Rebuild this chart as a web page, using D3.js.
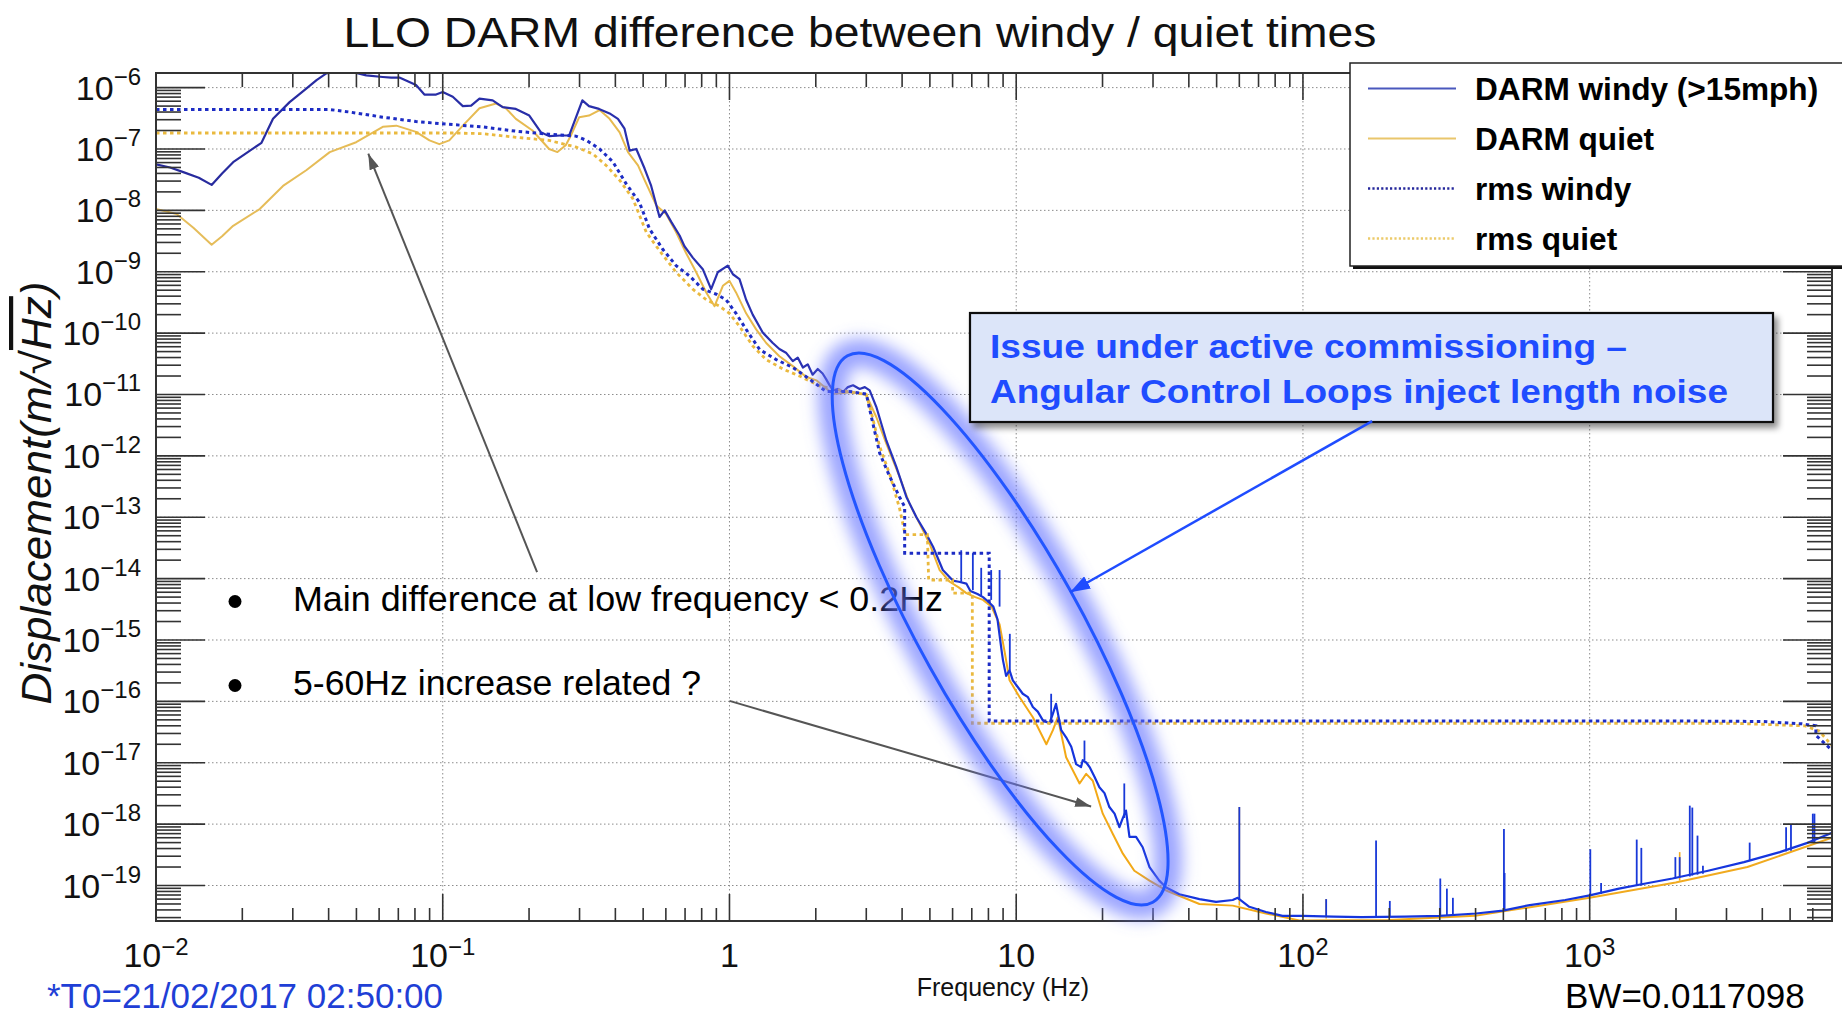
<!DOCTYPE html>
<html>
<head>
<meta charset="utf-8">
<script src="https://cdn.jsdelivr.net/npm/d3@7"></script>
<style>
  html, body { margin: 0; padding: 0; background: #ffffff; }
  svg { display: block; }
  text { font-family: "Liberation Sans", Arial, Helvetica, sans-serif; }
</style>
</head>
<body>
<svg id="chart" width="1842" height="1015"></svg>
<script>
// ---------------- DARM amplitude spectral densities (Hz, m/sqrt(Hz)) ----------------
const windyFreq = [0.0100, 0.0112, 0.01245, 0.0141, 0.01563, 0.0170, 0.01858, 0.0209, 0.02333, 0.02559,
  0.02924, 0.03342, 0.0363, 0.03926, 0.0447, 0.0499, 0.0541, 0.0618, 0.0661, 0.0706,
  0.0807, 0.0863, 0.0948, 0.100, 0.1084, 0.1175, 0.1256, 0.1343, 0.1493, 0.1618,
  0.1799, 0.2004, 0.2198, 0.235, 0.257, 0.2761, 0.3069, 0.3236, 0.3508, 0.3819,
  0.4083, 0.4305, 0.4487, 0.4732, 0.5058, 0.5333, 0.5702, 0.5943, 0.6266, 0.6699,
  0.6966, 0.7447, 0.8072, 0.863, 0.9099, 0.9863, 1.028, 1.084, 1.143, 1.205,
  1.306, 1.416, 1.493, 1.574, 1.663, 1.730, 1.803, 1.875, 1.95, 2.032,
  2.113, 2.173, 2.228, 2.296, 2.388, 2.489, 2.588, 2.698, 2.844, 2.965,
  3.083, 3.251, 3.524, 3.819, 4.14, 4.487, 4.853, 5.129, 5.546, 6.012,
  6.31, 6.70, 6.92, 7.33, 7.66, 8.0, 8.32, 8.6, 8.91, 8.99,
  9.22, 9.48, 9.73, 10.14, 10.54, 10.99, 11.43, 11.89, 12.39, 13.06,
  13.43, 13.77, 14.35, 14.93, 15.56, 16.18, 16.83, 17.06, 17.58, 18.03,
  18.75, 19.5, 20.32, 21.13, 22.03, 22.9, 23.55, 24.15, 24.83, 26.18,
  27.61, 29.17, 31.55, 33.34, 37.07, 43.55, 49.77, 56.89, 59.2, 65.0,
  74.3, 84.9, 100, 127.6, 160, 226.5, 300, 401.8, 497.7, 618,
  822, 1000, 1265, 1600, 1945, 2588, 3451, 4603, 5781, 7000];
const windyAmp = [5.6e-8, 5.0e-8, 4.2e-8, 3.4e-8, 2.6e-8, 4.0e-8, 6.1e-8, 8.9e-8, 1.26e-7, 3.1e-7,
  5.8e-7, 9.6e-7, 1.32e-6, 1.70e-6, 1.9e-6, 1.74e-6, 1.58e-6, 1.49e-6, 1.45e-6, 1.46e-6,
  1.10e-6, 7.7e-7, 7.7e-7, 8.5e-7, 7.1e-7, 5.0e-7, 5.1e-7, 6.6e-7, 6.2e-7, 4.8e-7,
  4.5e-7, 3.5e-7, 1.88e-7, 1.62e-7, 1.66e-7, 1.66e-7, 6.2e-7, 5.0e-7, 4.5e-7, 3.8e-7,
  3.1e-7, 2.14e-7, 9.4e-8, 1.0e-7, 4.8e-8, 2.5e-8, 7.8e-9, 1.0e-8, 6.5e-9, 3.9e-9,
  2.6e-9, 1.7e-9, 1.1e-9, 5.2e-10, 9.8e-10, 1.26e-9, 9.1e-10, 7.6e-10, 3.5e-10, 2.0e-10,
  1.02e-10, 6.9e-11, 5.5e-11, 4.8e-11, 3.5e-11, 4.0e-11, 2.75e-11, 3.1e-11, 2.1e-11, 2.6e-11,
  2.2e-11, 1.78e-11, 1.45e-11, 1.17e-11, 1.23e-11, 1.10e-11, 1.32e-11, 1.41e-11, 1.23e-11, 1.32e-11,
  1.17e-11, 6.3e-12, 1.78e-12, 6.6e-13, 2.14e-13, 1.0e-13, 5.4e-14, 3.3e-14, 1.38e-14, 9.3e-15,
  8.9e-15, 8.3e-15, 6.3e-15, 5.6e-15, 5.0e-15, 4.2e-15, 3.5e-15, 2.2e-15, 6.3e-16, 4.7e-16,
  2.6e-16, 3.2e-16, 2.2e-16, 1.7e-16, 1.33e-16, 1.17e-16, 8.1e-17, 6.8e-17, 4.9e-17, 4.4e-17,
  6.3e-17, 9.1e-17, 3.4e-17, 2.6e-17, 1.82e-17, 9.5e-18, 8.5e-18, 1.1e-17, 1.0e-17, 8.5e-18,
  5.9e-18, 4.0e-18, 3.2e-18, 1.9e-18, 1.48e-18, 8.9e-19, 1.26e-18, 1.66e-18, 6.2e-19, 6.2e-19,
  4.2e-19, 2.0e-19, 1.2e-19, 9.3e-20, 7.2e-20, 6.0e-20, 5.4e-20, 5.8e-20, 6.3e-20, 4.5e-20,
  3.7e-20, 3.2e-20, 3.2e-20, 3.1e-20, 3.05e-20, 3.1e-20, 3.2e-20, 3.5e-20, 3.9e-20, 4.8e-20,
  5.8e-20, 6.9e-20, 8.9e-20, 1.1e-19, 1.3e-19, 1.74e-19, 2.4e-19, 3.5e-19, 5.0e-19, 7.2e-19];

const quietFreq = [0.0100, 0.0118, 0.0135, 0.01563, 0.0170, 0.01858, 0.0230, 0.02773, 0.03342, 0.04036,
  0.0499, 0.0618, 0.0689, 0.0807, 0.0899, 0.0973, 0.1054, 0.1175, 0.1343, 0.1535,
  0.166, 0.1799, 0.2056, 0.235, 0.2512, 0.2685, 0.2799, 0.2992, 0.3236, 0.3524,
  0.3819, 0.414, 0.4426, 0.4797, 0.5058, 0.5559, 0.6012, 0.6516, 0.7063, 0.7656,
  0.8299, 0.8872, 0.9484, 1.0, 1.054, 1.143, 1.239, 1.343, 1.493, 1.663,
  1.849, 2.009, 2.296, 2.698, 3.0, 3.251, 3.524, 3.917, 4.246, 4.603,
  4.989, 5.408, 5.861, 6.3, 6.70, 7.2, 7.66, 8.2, 8.75, 9.12,
  9.48, 10.28, 11.43, 12.74, 13.43, 13.96, 14.93, 16.63, 17.54, 18.49,
  20.04, 21.73, 23.55, 25.82, 29.17, 33.34, 43.55, 56.89, 74.3, 97.1,
  200, 398, 1000, 1995, 3548, 7000];
const quietAmp = [1.05e-8, 8.7e-9, 5.2e-9, 2.75e-9, 3.8e-9, 5.6e-9, 1.05e-8, 2.5e-8, 4.5e-8, 8.9e-8,
  1.29e-7, 2.3e-7, 2.4e-7, 1.9e-7, 1.38e-7, 1.2e-7, 1.38e-7, 2.4e-7, 4.6e-7, 5.5e-7,
  4.6e-7, 3.1e-7, 2.0e-7, 1.0e-7, 8.9e-8, 1.15e-7, 1.66e-7, 3.3e-7, 3.5e-7, 4.3e-7,
  3.1e-7, 1.86e-7, 8.9e-8, 5.4e-8, 3.1e-8, 1.2e-8, 8.7e-9, 4.4e-9, 2.0e-9, 9.8e-10,
  4.6e-10, 2.75e-10, 5.9e-10, 7.1e-10, 4.6e-10, 2.1e-10, 1.15e-10, 6.9e-11, 4.2e-11, 2.9e-11,
  1.95e-11, 1.7e-11, 1.02e-11, 1.1e-11, 9.8e-12, 4.3e-12, 1.58e-12, 4.6e-13, 1.66e-13, 7.9e-14,
  3.7e-14, 1.38e-14, 8.9e-15, 7.2e-15, 5.8e-15, 5.0e-15, 4.5e-15, 3.5e-15, 1.8e-15, 6.3e-16,
  2.2e-16, 1.17e-16, 5.5e-17, 2.0e-17, 3.4e-17, 5.5e-17, 1.23e-17, 4.6e-18, 6.6e-18, 5.1e-18,
  1.48e-18, 6.9e-19, 3.3e-19, 1.74e-19, 1.2e-19, 8.3e-20, 5.0e-20, 4.7e-20, 3.5e-20, 2.7e-20,
  2.75e-20, 3.2e-20, 6.3e-20, 1.12e-19, 2.0e-19, 6.0e-19];

// narrow spectral lines drawn on top of the broadband curves (Hz, floor, peak)
const windyLineFreq = [6.43, 7.06, 7.55, 8.18, 8.75, 9.50, 13.24, 17.3, 23.82, 60.0,
  120.5, 179.9, 200.9, 301.3, 317.7, 333.4, 502.3, 505, 1005, 1096,
  1459, 1514, 1990, 2060, 2234, 2280, 2377, 2483, 3614, 4842, 5035, 6000, 6080];
const windyLineFloor = [8.9e-15, 6.5e-15, 5.2e-15, 4.5e-15, 3.5e-15, 3.2e-16, 4.4e-17, 1.1e-17, 1.26e-18, 5.8e-20,
  3.1e-20, 3.1e-20, 3.1e-20, 3.2e-20, 3.3e-20, 3.3e-20, 3.9e-20, 3.9e-20, 6.9e-20, 7.3e-20,
  9.8e-20, 1.0e-19, 1.3e-19, 1.35e-19, 1.4e-19, 1.45e-19, 1.5e-19, 1.55e-19, 2.5e-19, 3.6e-19, 3.7e-19, 5.0e-19, 5.1e-19];
const windyLinePeak = [2.9e-14, 2.6e-14, 1.5e-14, 1.38e-14, 1.38e-14, 1.26e-15, 1.33e-16, 2.3e-17, 4.6e-18, 1.9e-18,
  6.0e-20, 5.4e-19, 5.6e-20, 1.3e-19, 8.9e-20, 6.3e-20, 8.3e-19, 1.6e-19, 3.9e-19, 1.1e-19,
  5.6e-19, 4.1e-19, 2.9e-19, 2.9e-19, 2.0e-18, 1.86e-18, 6.5e-19, 2.1e-19, 5.0e-19, 8.9e-19, 1.0e-18, 1.48e-18, 1.48e-18];
const quietLineFreq = [60.0, 120.5, 2060];
const quietLineFloor = [4.7e-20, 2.9e-20, 1.2e-19];
const quietLinePeak = [1.9e-18, 6.0e-20, 3.5e-19];

// cumulative rms (steps are drawn as repeated frequencies)
const rmsWindyFreq = [0.01, 0.0403, 0.0473, 0.0618, 0.0807, 0.1, 0.1377, 0.1799, 0.235, 0.2911,
  0.3175, 0.3524, 0.3917, 0.4365, 0.4853, 0.526, 0.5861, 0.6516, 0.7261, 0.8072,
  0.8995, 0.9727, 1.054, 1.143, 1.274, 1.455, 1.663, 1.901, 2.173, 2.624,
  3.0, 3.126, 3.342, 3.622, 3.917, 4.083, 4.083, 8.05, 8.05, 2000,
  4000, 5500, 6150, 6150, 7000];
const rmsWindyAmp = [4.4e-7, 4.4e-7, 4.0e-7, 3.3e-7, 2.8e-7, 2.57e-7, 2.29e-7, 1.95e-7, 1.74e-7, 1.62e-7,
  1.38e-7, 1.0e-7, 6.2e-8, 2.7e-8, 1.35e-8, 5.0e-9, 2.3e-9, 1.26e-9, 8.5e-10, 5.2e-10,
  4.3e-10, 3.5e-10, 2.1e-10, 1.15e-10, 5.4e-11, 3.7e-11, 2.75e-11, 1.78e-11, 1.12e-11, 1.12e-11,
  1.02e-11, 4.3e-12, 1.1e-12, 4.6e-13, 2.14e-13, 1.48e-13, 2.6e-14, 2.6e-14, 4.8e-17, 4.8e-17,
  4.7e-17, 4.3e-17, 4.0e-17, 2.8e-17, 1.6e-17];
const rmsQuietFreq = [0.01, 0.1084, 0.1377, 0.1799, 0.235, 0.2924, 0.3342, 0.3715, 0.414, 0.4603,
  0.5129, 0.5702, 0.6516, 0.7447, 0.8299, 0.9226, 1.0, 1.084, 1.205, 1.343,
  1.535, 1.754, 2.061, 2.624, 3.0, 3.126, 3.342, 3.622, 3.917, 4.10,
  4.90, 4.95, 6.0, 6.0, 7.03, 7.03, 3162, 5623, 6310, 7000];
const rmsQuietAmp = [1.82e-7, 1.82e-7, 1.78e-7, 1.55e-7, 1.38e-7, 1.07e-7, 8.3e-8, 5.4e-8, 3.1e-8, 1.55e-8,
  4.4e-9, 2.2e-9, 9.8e-10, 5.2e-10, 3.5e-10, 2.75e-10, 2.1e-10, 1.29e-10, 6.2e-11, 3.7e-11,
  2.6e-11, 2.0e-11, 1.38e-11, 1.1e-11, 1.0e-11, 5.0e-12, 1.41e-12, 5.0e-13, 1.41e-13, 5.2e-14,
  5.2e-14, 9.5e-15, 9.5e-15, 5.8e-15, 5.8e-15, 4.4e-17, 4.4e-17, 4.0e-17, 3.3e-17, 1.9e-17];

// axis labels
const xTickValues = [0.01, 0.1, 1, 10, 100, 1000];
const xTickBase = ["10", "10", "1", "10", "10", "10"];
const xTickExp = ["\u22122", "\u22121", "", "", "2", "3"];
const yTickValues = [1e-6, 1e-7, 1e-8, 1e-9, 1e-10, 1e-11, 1e-12, 1e-13, 1e-14, 1e-15, 1e-16, 1e-17, 1e-18, 1e-19];
const yTickExp = ["\u22126", "\u22127", "\u22128", "\u22129", "\u221210", "\u221211", "\u221212",
  "\u221213", "\u221214", "\u221215", "\u221216", "\u221217", "\u221218", "\u221219"];

const legendLabels = ["DARM windy (>15mph)", "DARM quiet", "rms windy", "rms quiet"];

// ---------------- layout ----------------
const W = 1842, H = 1015;
const plot = { left: 156, right: 1832, top: 73, bottom: 921 };

const x = d3.scaleLog().domain([0.01, 7000]).range([plot.left, plot.right]);
const y = d3.scaleLog().domain([2.64e-20, 1.73e-6]).range([plot.bottom, plot.top]);

const svg = d3.select("#chart");
svg.append("rect").attr("width", W).attr("height", H).attr("fill", "#ffffff");

const defs = svg.append("defs");
defs.append("clipPath").attr("id", "plotClip")
  .append("rect")
  .attr("x", plot.left).attr("y", plot.top)
  .attr("width", plot.right - plot.left).attr("height", plot.bottom - plot.top);

const gWindy = defs.append("linearGradient").attr("id", "windyStroke")
  .attr("gradientUnits", "userSpaceOnUse")
  .attr("x1", plot.left).attr("x2", plot.right).attr("y1", 0).attr("y2", 0);
gWindy.append("stop").attr("offset", "0").attr("stop-color", "#272a9c");
gWindy.append("stop").attr("offset", "0.42").attr("stop-color", "#2a32b4");
gWindy.append("stop").attr("offset", "0.52").attr("stop-color", "#1534dc");
gWindy.append("stop").attr("offset", "1").attr("stop-color", "#1636de");

const gQuiet = defs.append("linearGradient").attr("id", "quietStroke")
  .attr("gradientUnits", "userSpaceOnUse")
  .attr("x1", plot.left).attr("x2", plot.right).attr("y1", 0).attr("y2", 0);
gQuiet.append("stop").attr("offset", "0").attr("stop-color", "#e5bd5c");
gQuiet.append("stop").attr("offset", "0.42").attr("stop-color", "#e8b848");
gQuiet.append("stop").attr("offset", "0.52").attr("stop-color", "#f3a916");
gQuiet.append("stop").attr("offset", "1").attr("stop-color", "#f0aa20");

const glow = defs.append("filter").attr("id", "glow")
  .attr("x", "-30%").attr("y", "-30%").attr("width", "160%").attr("height", "160%");
glow.append("feGaussianBlur").attr("stdDeviation", 8);

const shadow = defs.append("filter").attr("id", "boxShadow")
  .attr("x", "-10%").attr("y", "-20%").attr("width", "130%").attr("height", "150%");
shadow.append("feDropShadow").attr("dx", 4).attr("dy", 5).attr("stdDeviation", 3)
  .attr("flood-color", "#000").attr("flood-opacity", 0.45);

function arrowMarker(id, color, len, wid) {
  defs.append("marker").attr("id", id)
    .attr("markerUnits", "userSpaceOnUse")
    .attr("markerWidth", len).attr("markerHeight", wid)
    .attr("refX", len).attr("refY", wid / 2)
    .attr("orient", "auto")
    .append("path")
    .attr("d", `M0,0 L${len},${wid / 2} L0,${wid} Z`)
    .attr("fill", color);
}
arrowMarker("arrGray", "#555555", 16, 10);
arrowMarker("arrBlue", "#1f4cff", 20, 14);

// ---------------- grid ----------------
const decadesX = xTickValues.filter(v => v > 0.01);
const grid = svg.append("g").attr("stroke", "#8c8c8c").attr("stroke-width", 1)
  .attr("stroke-dasharray", "1.5,2.5");
grid.selectAll("line.gx").data(decadesX).join("line")
  .attr("x1", d => x(d)).attr("x2", d => x(d))
  .attr("y1", plot.top).attr("y2", plot.bottom);
grid.selectAll("line.gy").data(yTickValues).join("line")
  .attr("x1", plot.left).attr("x2", plot.right)
  .attr("y1", d => y(d)).attr("y2", d => y(d));

// ---------------- curves ----------------
const line = d3.line().x(d => x(d[0])).y(d => y(d[1]));
const zip = (a, b) => a.map((v, i) => [v, b[i]]);
const curves = svg.append("g").attr("clip-path", "url(#plotClip)").attr("fill", "none");

curves.append("path").datum(zip(quietFreq, quietAmp))
  .attr("d", line).attr("stroke", "url(#quietStroke)").attr("stroke-width", 2)
  .attr("stroke-linejoin", "round");
curves.selectAll("line.qspike").data(quietLineFreq.map((f, i) => [f, quietLineFloor[i], quietLinePeak[i]]))
  .join("line")
  .attr("x1", d => x(d[0])).attr("x2", d => x(d[0]))
  .attr("y1", d => y(d[1])).attr("y2", d => y(d[2]))
  .attr("stroke", "#f0aa20").attr("stroke-width", 1.6);

curves.append("path").datum(zip(windyFreq, windyAmp))
  .attr("d", line).attr("stroke", "url(#windyStroke)").attr("stroke-width", 2.2)
  .attr("stroke-linejoin", "round");
curves.selectAll("line.wspike").data(windyLineFreq.map((f, i) => [f, windyLineFloor[i], windyLinePeak[i]]))
  .join("line")
  .attr("x1", d => x(d[0])).attr("x2", d => x(d[0]))
  .attr("y1", d => y(d[1])).attr("y2", d => y(d[2]))
  .attr("stroke", "#1838d8").attr("stroke-width", 1.8);

curves.append("path").datum(zip(rmsQuietFreq, rmsQuietAmp))
  .attr("d", line).attr("stroke", "#eab93e").attr("stroke-width", 2.8)
  .attr("stroke-dasharray", "3.5,3.5");
curves.append("path").datum(zip(rmsWindyFreq, rmsWindyAmp))
  .attr("d", line).attr("stroke", "#1d2cc4").attr("stroke-width", 3)
  .attr("stroke-dasharray", "3.5,3.5");

// ---------------- frame and ticks ----------------
const axes = svg.append("g").attr("stroke", "#333333").attr("stroke-width", 1.6);
axes.append("rect")
  .attr("x", plot.left).attr("y", plot.top)
  .attr("width", plot.right - plot.left).attr("height", plot.bottom - plot.top)
  .attr("fill", "none").attr("stroke-width", 2);

function logTicks(lo, hi) {
  const out = [];
  for (let e = Math.floor(Math.log10(lo)); e <= Math.ceil(Math.log10(hi)); e++) {
    for (let k = 1; k <= 9; k++) {
      const v = k * Math.pow(10, e);
      if (v >= lo * 0.9999 && v <= hi * 1.0001) out.push({ v, major: k === 1 });
    }
  }
  return out;
}
const xt = logTicks(0.01, 7000);
axes.selectAll("line.xb").data(xt).join("line")
  .attr("x1", d => x(d.v)).attr("x2", d => x(d.v))
  .attr("y1", plot.bottom).attr("y2", d => plot.bottom - (d.major ? 27 : 13));
axes.selectAll("line.xt").data(xt).join("line")
  .attr("x1", d => x(d.v)).attr("x2", d => x(d.v))
  .attr("y1", plot.top).attr("y2", d => plot.top + (d.major ? 27 : 14));
const yt = logTicks(2.64e-20, 1.73e-6);
axes.selectAll("line.yl").data(yt).join("line")
  .attr("x1", plot.left).attr("x2", d => plot.left + (d.major ? 49 : 25))
  .attr("y1", d => y(d.v)).attr("y2", d => y(d.v));
axes.selectAll("line.yr").data(yt).join("line")
  .attr("x1", plot.right).attr("x2", d => plot.right - (d.major ? 49 : 25))
  .attr("y1", d => y(d.v)).attr("y2", d => y(d.v));

// ---------------- tick labels ----------------
const yLab = svg.append("g").attr("fill", "#111").attr("font-size", 34).attr("text-anchor", "end");
yTickValues.forEach((v, i) => {
  const t = yLab.append("text").attr("x", 141).attr("y", y(v) + 12);
  t.append("tspan").text("10");
  t.append("tspan").attr("font-size", 24).attr("dy", -15).text(yTickExp[i]);
});
const xLab = svg.append("g").attr("fill", "#111").attr("font-size", 34).attr("text-anchor", "middle");
xTickValues.forEach((v, i) => {
  const t = xLab.append("text").attr("x", x(v)).attr("y", 967);
  t.append("tspan").text(xTickBase[i]);
  if (xTickExp[i]) t.append("tspan").attr("font-size", 24).attr("dy", -12).text(xTickExp[i]);
});

// axis titles
svg.append("text").attr("x", 1089).attr("y", 996).attr("text-anchor", "end")
  .attr("font-size", 25).attr("fill", "#111").text("Frequency (Hz)");
const yTitle = svg.append("text")
  .attr("transform", "translate(51,493) rotate(-90)")
  .attr("text-anchor", "middle").attr("font-size", 42).attr("font-style", "italic")
  .attr("fill", "#111").attr("textLength", 423).attr("lengthAdjust", "spacingAndGlyphs");
yTitle.append("tspan").text("Displacement(m/\u221A");
yTitle.append("tspan").attr("text-decoration", "overline").text("Hz");
yTitle.append("tspan").text(")");

// title
svg.append("text").attr("x", 860).attr("y", 47).attr("text-anchor", "middle")
  .attr("font-size", 42).attr("fill", "#111")
  .attr("textLength", 1033).attr("lengthAdjust", "spacingAndGlyphs")
  .text("LLO DARM difference between windy / quiet times");

// ---------------- annotations ----------------
const notes = svg.append("g");
notes.append("line")
  .attr("x1", x(0.2133)).attr("y1", y(1.28e-14))
  .attr("x2", x(0.055)).attr("y2", y(8.4e-8))
  .attr("stroke", "#555").attr("stroke-width", 2).attr("marker-end", "url(#arrGray)");
notes.append("line")
  .attr("x1", x(1.0)).attr("y1", y(1.02e-16))
  .attr("x2", x(18.25)).attr("y2", y(1.94e-18))
  .attr("stroke", "#555").attr("stroke-width", 2).attr("marker-end", "url(#arrGray)");

const bullets = [
  { text: "Main difference at low frequency < 0.2Hz", base: 611, len: 650 },
  { text: "5-60Hz increase related ?", base: 695, len: 408 }
];
bullets.forEach(b => {
  notes.append("circle").attr("cx", 235).attr("cy", b.base - 9.5).attr("r", 6.5).attr("fill", "#000");
  notes.append("text").attr("x", 293).attr("y", b.base).attr("font-size", 35).attr("fill", "#000")
    .attr("textLength", b.len).attr("lengthAdjust", "spacingAndGlyphs")
    .text(b.text);
});

// highlighted region
const ell = svg.append("g")
  .attr("transform", `translate(${x(8.79)},${y(1.51e-15)}) rotate(60.8)`);
ell.append("ellipse").attr("rx", 313).attr("ry", 80)
  .attr("fill", "none").attr("stroke", "#6674ff").attr("stroke-width", 28)
  .attr("stroke-opacity", 0.65).attr("filter", "url(#glow)");
ell.append("ellipse").attr("rx", 313).attr("ry", 80)
  .attr("fill", "none").attr("stroke", "#2356ff").attr("stroke-width", 3);

// call-out box
const box = svg.append("g");
box.append("rect").attr("x", 970).attr("y", 313).attr("width", 803).attr("height", 109)
  .attr("fill", "#dce5f9").attr("stroke", "#111").attr("stroke-width", 2.2)
  .attr("filter", "url(#boxShadow)");
box.append("text").attr("x", 990).attr("y", 358).attr("font-size", 33).attr("font-weight", "bold")
  .attr("fill", "#1f4cff").attr("textLength", 637).attr("lengthAdjust", "spacingAndGlyphs")
  .text("Issue under active commissioning \u2013");
box.append("text").attr("x", 990).attr("y", 403).attr("font-size", 33).attr("font-weight", "bold")
  .attr("fill", "#1f4cff").attr("textLength", 738).attr("lengthAdjust", "spacingAndGlyphs")
  .text("Angular Control Loops inject length noise");
svg.append("line")
  .attr("x1", x(174.3)).attr("y1", y(3.67e-12))
  .attr("x2", x(15.42)).attr("y2", y(6.0e-15))
  .attr("stroke", "#1f4cff").attr("stroke-width", 2.5).attr("marker-end", "url(#arrBlue)");

// ---------------- legend ----------------
const leg = svg.append("g");
leg.append("rect").attr("x", 1353).attr("y", 66).attr("width", 495).attr("height", 203).attr("fill", "#111");
leg.append("rect").attr("x", 1350).attr("y", 63).attr("width", 495).attr("height", 203)
  .attr("fill", "#fff").attr("stroke", "#222").attr("stroke-width", 1.5);
const legStyles = [
  { color: "#4a58bd", dash: null, w: 2 },
  { color: "#e9c66c", dash: null, w: 2 },
  { color: "#26289c", dash: "2.2,2.2", w: 2.4 },
  { color: "#ecca6a", dash: "2.2,2.2", w: 2.4 }
];
legendLabels.forEach((lab, i) => {
  const base = 100 + i * 50;
  const ln = leg.append("line").attr("x1", 1368).attr("x2", 1456)
    .attr("y1", base - 11.5).attr("y2", base - 11.5)
    .attr("stroke", legStyles[i].color).attr("stroke-width", legStyles[i].w);
  if (legStyles[i].dash) ln.attr("stroke-dasharray", legStyles[i].dash);
  leg.append("text").attr("x", 1475).attr("y", base).attr("font-size", 31.6)
    .attr("font-weight", "bold").attr("fill", "#000").text(lab);
});

// ---------------- footer ----------------
svg.append("text").attr("x", 47).attr("y", 1008).attr("font-size", 35).attr("fill", "#1f3fd6")
  .text("*T0=21/02/2017 02:50:00");
svg.append("text").attr("x", 1565).attr("y", 1008).attr("font-size", 35).attr("fill", "#000")
  .text("BW=0.0117098");
</script>
</body>
</html>
